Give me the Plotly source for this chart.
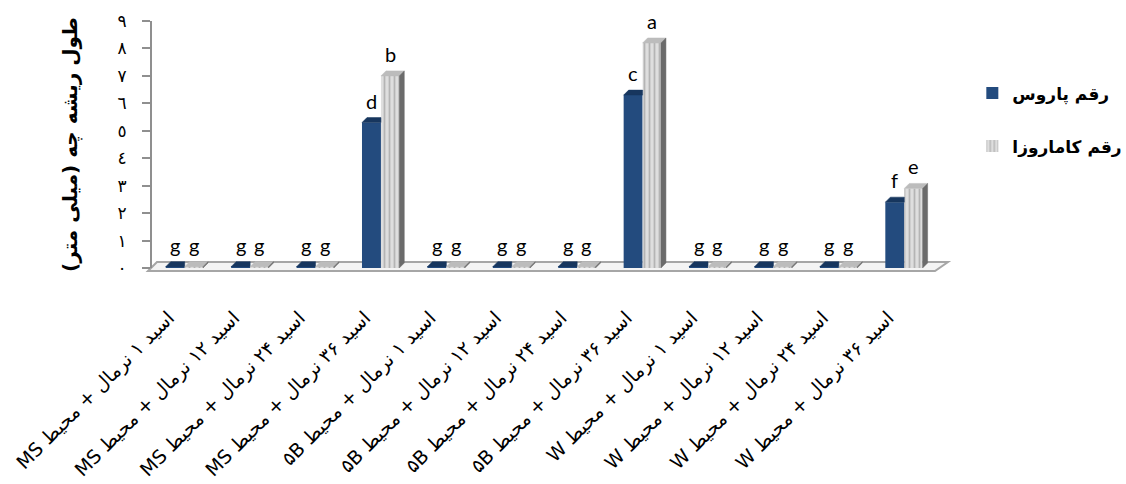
import plotly.graph_objects as go

# Treatment labels (acid concentration + culture medium), left to right
categories = [
    "اسید ۱ نرمال + محیط MS",
    "اسید ۱۲ نرمال + محیط MS",
    "اسید ۲۴ نرمال + محیط MS",
    "اسید ۳۶ نرمال + محیط MS",
    "اسید ۱ نرمال + محیط ۵B",
    "اسید ۱۲ نرمال + محیط ۵B",
    "اسید ۲۴ نرمال + محیط ۵B",
    "اسید ۳۶ نرمال + محیط ۵B",
    "اسید ۱ نرمال + محیط W",
    "اسید ۱۲ نرمال + محیط W",
    "اسید ۲۴ نرمال + محیط W",
    "اسید ۳۶ نرمال + محیط W",
]

# Radicle length (mm) for the two cultivars
parous = [0.05, 0.05, 0.05, 5.3, 0.05, 0.05, 0.05, 6.3, 0.05, 0.05, 0.05, 2.4]
kamarozza = [0.05, 0.05, 0.05, 7.0, 0.05, 0.05, 0.05, 8.2, 0.05, 0.05, 0.05, 2.9]

# Mean-separation letters
letters_parous = ["g", "g", "g", "d", "g", "g", "g", "c", "g", "g", "g", "f"]
letters_kamarozza = ["g", "g", "g", "b", "g", "g", "g", "a", "g", "g", "g", "e"]

series_names = ["رقم پاروس", "رقم کاماروزا"]
y_tick_values = [0, 1, 2, 3, 4, 5, 6, 7, 8, 9]
y_tick_labels = ["٠", "١", "٢", "٣", "٤", "٥", "٦", "٧", "٨", "٩"]
y_title = "طول ریشه چه (میلی متر)"

RLE, PDF = "\u202b", "\u202c"


def rtl(s):
    return RLE + s + PDF


FONT_FA = "DejaVu Sans"
FONT_LETTER = "Lato"

BLUE = "#234b7e"
BLUE_TOP = "#17365e"
GRAY_BG = "#dedede"
GRAY_FG = "#8a8a8a"
GRAY_TOP = "#bcbcbc"
GRAY_SIDE = "#6b6b6b"
AXIS_GRAY = "#8f8f8f"

# plot geometry (pixels) used for the pseudo-3D depth
L, R, T, B = 152, 189, 21, 216
W, H = 1126, 484
plot_w, plot_h = W - L - R, H - T - B
n = len(categories)
px_x = n / plot_w
px_y = 9 / plot_h
dx, dy = 5 * px_x, 5 * px_y

w_blue, w_gray = 0.29, 0.28
x_idx = list(range(n))

fig = go.Figure()

fig.add_trace(go.Bar(
    x=x_idx, y=parous, name=rtl(series_names[0]),
    width=w_blue, offset=-w_blue,
    marker=dict(color=BLUE, line=dict(width=0)),
    legendgroup="p",
))
fig.add_trace(go.Bar(
    x=x_idx, y=kamarozza, name=rtl(series_names[1]),
    width=w_gray, offset=0,
    marker=dict(color=GRAY_BG, line=dict(width=0),
                pattern=dict(shape="|", fgcolor=GRAY_FG, bgcolor=GRAY_BG,
                             size=5, solidity=0.35)),
    legendgroup="k",
))

# depth faces: blue tops (cut at the grey bar), grey tops and grey sides
bx, by, gtx, gty, gsx, gsy = [], [], [], [], [], []
for i in x_idx:
    x0, x1 = i - w_blue, i
    h = parous[i]
    bx += [x0, x0 + dx, x1, x1, x0, None]
    by += [h, h + dy, h + dy, h, h, None]
    g0, g1 = i, i + w_gray
    hg = kamarozza[i]
    gtx += [g0, g0 + dx, g1 + dx, g1, g0, None]
    gty += [hg, hg + dy, hg + dy, hg, hg, None]
    gsx += [g1, g1 + dx, g1 + dx, g1, g1, None]
    gsy += [0, dy, hg + dy, hg, 0, None]

for xs, ys, col in [(bx, by, BLUE_TOP), (gtx, gty, GRAY_TOP), (gsx, gsy, GRAY_SIDE)]:
    fig.add_trace(go.Scatter(
        x=xs, y=ys, mode="lines", fill="toself", fillcolor=col,
        line=dict(width=0.5, color=col), showlegend=False, hoverinfo="skip",
        cliponaxis=False,
    ))

# letters above the bars
for i in x_idx:
    fig.add_annotation(x=i - w_blue / 2, y=parous[i], text=letters_parous[i],
                       showarrow=False, yshift=22, xref="x", yref="y",
                       font=dict(family=FONT_LETTER, size=20, color="black"))
    fig.add_annotation(x=i + w_gray / 2, y=kamarozza[i], text=letters_kamarozza[i],
                       showarrow=False, yshift=22, xref="x", yref="y",
                       font=dict(family=FONT_LETTER, size=20, color="black"))


def px(xp, yp):
    return (xp - L) / plot_w, (H - B - yp) / plot_h


# floor of the chart
pts = [px(148, 271), px(157, 262), px(948, 262), px(935, 271)]
path = "M " + " L ".join(f"{a},{b}" for a, b in pts) + " Z"
fig.add_shape(type="path", path=path, xref="paper", yref="paper",
              fillcolor="#f4f4f4", line=dict(color="#a6a6a6", width=2), layer="below")

fig.update_layout(
    width=W, height=H,
    margin=dict(l=L, r=R, t=T, b=B, autoexpand=False),
    paper_bgcolor="white", plot_bgcolor="white",
    barmode="overlay",
    showlegend=True,
    legend=dict(x=1.045, y=0.78, xanchor="left", yanchor="top",
                font=dict(family=FONT_FA, size=17, color="black", weight="bold"),
                tracegroupgap=28, bgcolor="rgba(0,0,0,0)"),
    xaxis=dict(range=[-0.5, n - 0.5], tickvals=x_idx,
               ticktext=[rtl(c) for c in categories],
               tickangle=-45, ticks="", showline=False, showgrid=False,
               zeroline=False, ticklabelstandoff=34, ticklabelshift=-16,
               tickfont=dict(family=FONT_FA, size=19, color="black")),
    yaxis=dict(range=[0, 9], tickvals=y_tick_values, ticktext=y_tick_labels,
               ticks="outside", ticklen=8, tickwidth=2, tickcolor=AXIS_GRAY,
               showline=True, linecolor=AXIS_GRAY, linewidth=2,
               showgrid=False, zeroline=False, ticklabelstandoff=12,
               tickfont=dict(family=FONT_FA, size=17, color="black"),
               title=dict(text=rtl(y_title), standoff=34,
                          font=dict(family=FONT_FA, size=20, color="black",
                                    weight="bold"))),
)

fig.write_html("out.html")
